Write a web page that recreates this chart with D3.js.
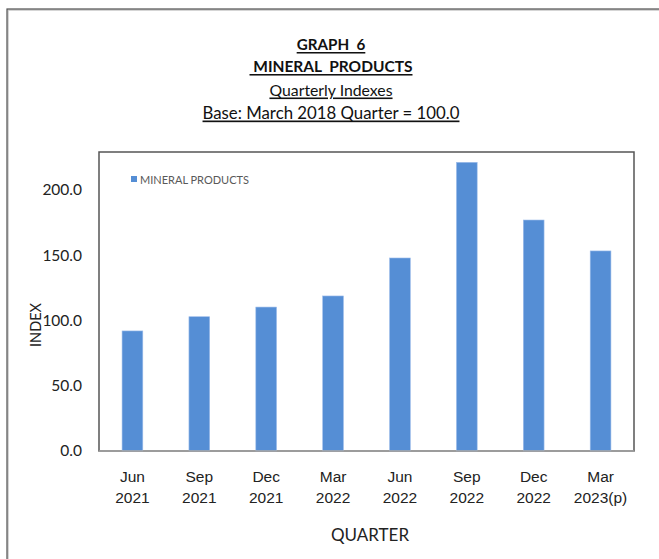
<!DOCTYPE html>
<html>
<head>
<meta charset="utf-8">
<script src="https://cdn.jsdelivr.net/npm/d3@7"></script>
<style>
  html, body { margin: 0; padding: 0; background: #fff; }
  svg { display: block; font-family: Lato, "Open Sans", sans-serif; }
</style>
</head>
<body>
<svg id="chart" width="659" height="559"></svg>
<script>
const months = ["Jun", "Sep", "Dec", "Mar", "Jun", "Sep", "Dec", "Mar"];
const years = ["2021", "2021", "2021", "2022", "2022", "2022", "2022", "2023(p)"];
const categories = months.map((m, i) => m + " " + years[i]);
const values = [92.0, 102.9, 110.3, 118.8, 147.9, 221.2, 177.0, 153.3];
const yTicks = [0, 50, 100, 150, 200];
const titleLines = ["GRAPH  6", " MINERAL  PRODUCTS", "Quarterly Indexes", "Base: March 2018 Quarter = 100.0"];
const seriesName = "MINERAL PRODUCTS";

const svg = d3.select("#chart");

// outer frame (extends beyond the window on right/bottom)
svg.append("rect").attr("x", 8).attr("y", 10).attr("width", 700).attr("height", 600)
  .attr("fill", "none").attr("stroke", "#c8c8c8").attr("stroke-width", 1.5);
svg.append("rect").attr("x", 7).attr("y", 9).attr("width", 700).attr("height", 600)
  .attr("fill", "none").attr("stroke", "#505050").attr("stroke-width", 1.2);

// titles
const titleY = [44, 66, 89, 112];
const titleSize = [15.2, 15.5, 15.8, 16.8];
titleLines.forEach((t, i) => {
  svg.append("text")
    .attr("x", 331).attr("y", titleY[i])
    .attr("text-anchor", "middle").attr("dominant-baseline", "central")
    .attr("font-size", titleSize[i])
    .attr("font-weight", i < 2 ? "bold" : "normal")
    .attr("text-decoration", "underline")
    .attr("fill", "#111")
    .style("white-space", "pre")
    .text(t);
});

const pLeft = 99, pRight = 634, pTop = 152, pBottom = 451;

const x = d3.scaleBand().domain(categories).range([pLeft, pRight])
  .paddingInner(0.69).paddingOuter(0.345);
const y = d3.scaleLinear().domain([0, 200]).range([pBottom, 190]);

// plot frame
svg.append("rect").attr("x", pLeft).attr("y", pTop).attr("width", pRight - pLeft).attr("height", pBottom - pTop)
  .attr("fill", "#fff").attr("stroke", "#555").attr("stroke-width", 1.5);

// bars
svg.append("g").selectAll("rect").data(values).join("rect")
  .attr("x", (d, i) => x(categories[i]))
  .attr("y", d => y(d))
  .attr("width", x.bandwidth())
  .attr("height", d => y(0) - y(d))
  .attr("fill", "#558ed5")
  .attr("stroke", "#9cbcea").attr("stroke-width", 0.6);

// bottom axis line
svg.append("line").attr("x1", pLeft).attr("x2", pRight).attr("y1", pBottom).attr("y2", pBottom)
  .attr("stroke", "#a6a6a6").attr("stroke-width", 1.5);

// y axis
const yAxis = d3.axisLeft(y).tickValues(yTicks).tickFormat(d3.format(".1f")).tickSize(0).tickPadding(17);
const yg = svg.append("g").attr("transform", `translate(${pLeft},0)`).call(yAxis);
yg.select(".domain").remove();
yg.selectAll("text").attr("font-size", 15.5).attr("fill", "#222").attr("font-family", "Lato, sans-serif");

// x axis (two-line labels)
const xAxis = d3.axisBottom(x).tickSize(0).tickFormat(() => "");
const xg = svg.append("g").attr("transform", `translate(0,${pBottom})`).call(xAxis);
xg.select(".domain").remove();
xg.selectAll(".tick").each(function(d, i) {
  const g = d3.select(this);
  g.append("text").attr("y", 25).attr("text-anchor", "middle").attr("dominant-baseline", "central")
    .attr("font-size", 15.5).attr("fill", "#222").text(months[i]);
  g.append("text").attr("y", 46).attr("text-anchor", "middle").attr("dominant-baseline", "central")
    .attr("font-size", 15.5).attr("fill", "#222").text(years[i]);
});

// axis titles
svg.append("text").attr("x", 370).attr("y", 534).attr("text-anchor", "middle")
  .attr("dominant-baseline", "central").attr("font-size", 17).attr("fill", "#222").text("QUARTER");
svg.append("text").attr("transform", "translate(35,325) rotate(-90)").attr("text-anchor", "middle")
  .attr("dominant-baseline", "central").attr("font-size", 14.5).attr("fill", "#222").text("INDEX");

// legend
svg.append("rect").attr("x", 131).attr("y", 176).attr("width", 6).attr("height", 6).attr("fill", "#558ed5");
svg.append("text").attr("x", 140).attr("y", 179.5).attr("dominant-baseline", "central")
  .attr("font-size", 11).attr("fill", "#595959").text(seriesName);
</script>
</body>
</html>
